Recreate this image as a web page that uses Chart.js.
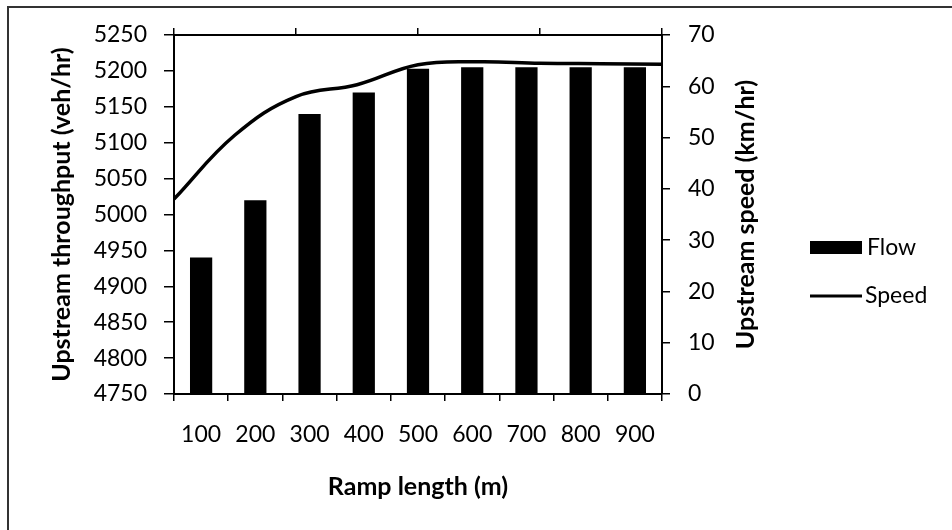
<!DOCTYPE html>
<html>
<head>
<meta charset="utf-8">
<script src="https://cdn.jsdelivr.net/npm/chart.js@4.4.0/dist/chart.umd.min.js"></script>
<style>
html,body{margin:0;padding:0;background:#fff;}
#wrap{width:952px;height:530px;position:relative;}
canvas{display:block;}
</style>
</head>
<body>
<div id="wrap"><canvas id="c" width="952" height="530"></canvas></div>
<script>
// ---- data ----
const rampLengths = [100, 200, 300, 400, 500, 600, 700, 800, 900];
const flowValues  = [4940, 5020, 5140, 5170, 5203, 5205, 5205, 5205, 5205];
const speedValues = [38, 50.5, 58, 60.3, 64.2, 64.8, 64.5, 64.4, 64.3];
const flowAxis  = { min: 4750, max: 5250, step: 50 };
const speedAxis = { min: 0, max: 70, step: 10 };
const seriesNames = ["Flow", "Speed"];
const xTitle  = "Ramp length (m)";
const yTitle  = "Upstream throughput (veh/hr)";
const y1Title = "Upstream speed (km/hr)";

// ---- layout ----
const W = 952, H = 530;
const PLOT = { left: 174, right: 662, top: 35, bottom: 394 };
const FONT = "Lato, 'Open Sans', sans-serif";
const tickFont = { family: FONT, size: 23 };
const plain = (v) => String(v);

const deco = {
  id: 'deco',
  afterDraw(chart) {
    const ctx = chart.ctx, ca = chart.chartArea;
    const cy = (ca.top + ca.bottom) / 2;
    ctx.save();
    // outer frame
    ctx.strokeStyle = '#333'; ctx.lineWidth = 2;
    ctx.beginPath(); ctx.moveTo(8, H); ctx.lineTo(8, 7); ctx.lineTo(W, 7); ctx.stroke();
    // titles
    ctx.fillStyle = '#000';
    ctx.font = "bold 25px " + FONT;
    ctx.textAlign = 'center'; ctx.textBaseline = 'middle';
    ctx.fillText(xTitle, (ca.left + ca.right) / 2, 487);
    ctx.save(); ctx.translate(62, cy); ctx.rotate(-Math.PI / 2); ctx.fillText(yTitle, 0, 0); ctx.restore();
    ctx.save(); ctx.translate(746, cy); ctx.rotate(-Math.PI / 2); ctx.fillText(y1Title, 0, 0); ctx.restore();
    // legend
    const ds = chart.data.datasets;
    ctx.font = "23px " + FONT; ctx.textAlign = 'left';
    ctx.fillStyle = ds[0].backgroundColor;
    ctx.fillRect(810, 241, 52, 13);
    ctx.fillStyle = '#000';
    ctx.fillText(ds[0].label, 867, 248);
    ctx.strokeStyle = ds[1].borderColor; ctx.lineWidth = 3;
    ctx.beginPath(); ctx.moveTo(810, 296); ctx.lineTo(862, 296); ctx.stroke();
    ctx.fillText(ds[1].label, 865, 296);
    ctx.restore();
  }
};

const axisGrid = (len) => ({ drawOnChartArea: false, color: '#000', lineWidth: 1.5, tickLength: len });
const axisBorder = { color: '#000', width: 2 };

new Chart(document.getElementById('c'), {
  type: 'bar',
  data: {
    labels: rampLengths.map(String),
    datasets: [
      {
        type: 'bar', label: seriesNames[0], data: flowValues,
        backgroundColor: '#000', borderWidth: 0,
        xAxisID: 'x', yAxisID: 'y', order: 2, grouped: false,
        barPercentage: 0.41, categoryPercentage: 1
      },
      {
        type: 'line', label: seriesNames[1],
        data: rampLengths.map((x, i) => ({ x: x, y: speedValues[i] })),
        borderColor: '#000', borderWidth: 3.5, pointRadius: 0, tension: 0.4,
        fill: false, xAxisID: 'x2', yAxisID: 'y1', order: 1
      }
    ]
  },
  options: {
    responsive: false, animation: false,
    layout: { padding: 0 },
    plugins: { legend: { display: false }, tooltip: { enabled: false } },
    scales: {
      x: {
        type: 'category', position: 'bottom', offset: true,
        grid: Object.assign(axisGrid(7), { offset: true }), border: axisBorder,
        ticks: { font: tickFont, color: '#000', padding: 20, maxRotation: 0, autoSkip: false },
        afterFit(s) { s.height = H - PLOT.bottom; }
      },
      x2: {
        type: 'linear', position: 'top', offset: false,
        min: rampLengths[0], max: rampLengths[rampLengths.length - 1],
        grid: Object.assign(axisGrid(7), { offset: false }), border: axisBorder,
        ticks: { display: false, stepSize: 200 },
        afterFit(s) { s.height = PLOT.top; }
      },
      y: {
        type: 'linear', position: 'left', min: flowAxis.min, max: flowAxis.max,
        grid: axisGrid(10), border: axisBorder,
        ticks: { stepSize: flowAxis.step, font: tickFont, color: '#000', padding: 17, callback: plain },
        afterFit(s) { s.width = PLOT.left; }
      },
      y1: {
        type: 'linear', position: 'right', min: speedAxis.min, max: speedAxis.max,
        grid: axisGrid(8), border: axisBorder,
        ticks: { stepSize: speedAxis.step, font: tickFont, color: '#000', padding: 18, callback: plain },
        afterFit(s) { s.width = W - PLOT.right; }
      }
    }
  },
  plugins: [deco]
});
</script>
</body>
</html>
